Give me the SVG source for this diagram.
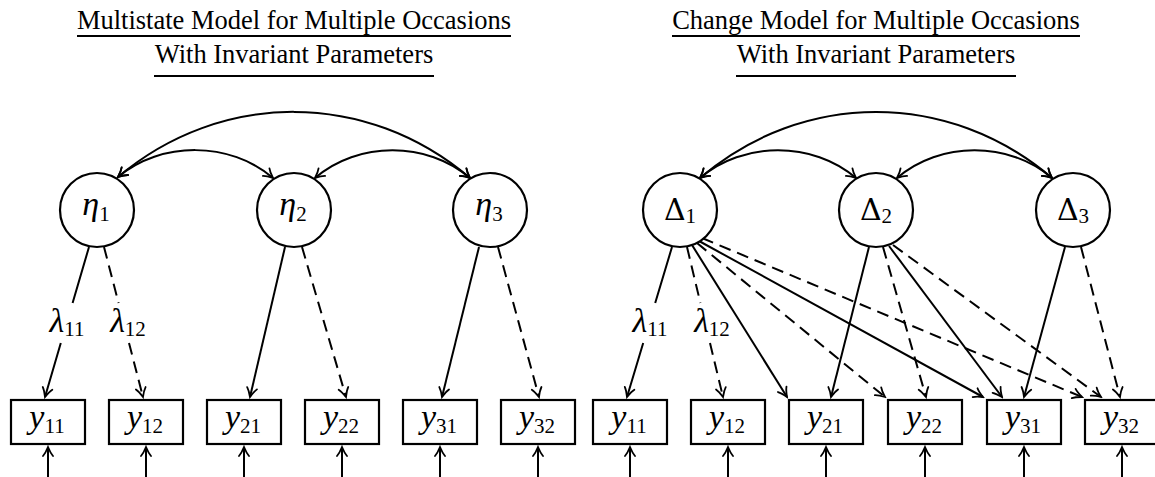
<svg xmlns="http://www.w3.org/2000/svg" width="1155" height="477" viewBox="0 0 1155 477">
  <style>
    .title { font-family: "Liberation Serif", "Times New Roman", serif; font-size: 26.5px; fill: #000; }
    .ul { stroke: #000; stroke-width: 2; }
    .node { fill: #fff; stroke: #000; stroke-width: 2.2; }
    .math { font-family: "Liberation Serif", "Times New Roman", serif; font-style: italic; font-size: 34px; fill: #000; }
    .greek { font-family: "DejaVu Serif", "Liberation Serif", serif; font-size: 30px; fill: #000; }
    .sub { font-family: "Liberation Serif", "Times New Roman", serif; font-style: normal; font-size: 21px; }
    .conn { fill: none; stroke: #000; stroke-width: 2; marker-end: url(#arrow); }
    .cov { fill: none; stroke: #000; stroke-width: 2; marker-start: url(#arrow); marker-end: url(#arrow); }
    .dash { stroke-dasharray: 12 7; }
  </style>
  <defs>
    <marker id="arrow" viewBox="-11 -7 13 14" refX="0" refY="0" markerWidth="13" markerHeight="14" markerUnits="userSpaceOnUse" orient="auto-start-reverse">
      <path d="M-9,-5 C-6.5,-2.8 -2.2,-0.9 0,0 C-2.2,0.9 -6.5,2.8 -9,5" fill="none" stroke="#000" stroke-width="1.8" stroke-linecap="round" stroke-dasharray="none"/>
    </marker>
  </defs>

  <!-- panel titles -->
  <g id="titles">
    <text class="title" x="294" y="28.5" text-anchor="middle">Multistate Model for Multiple Occasions</text>
    <line class="ul" x1="77" y1="36" x2="511" y2="36"/>
    <text class="title" x="294" y="63" text-anchor="middle">With Invariant Parameters</text>
    <line class="ul" x1="154" y1="76" x2="434" y2="76"/>
    <text class="title" x="876" y="28.5" text-anchor="middle">Change Model for Multiple Occasions</text>
    <line class="ul" x1="672" y1="36" x2="1080" y2="36"/>
    <text class="title" x="876" y="63" text-anchor="middle">With Invariant Parameters</text>
    <line class="ul" x1="736" y1="76" x2="1016" y2="76"/>
  </g>

  <g id="connectors">
    <!-- covariances between latent factors (left) -->
    <path class="cov" d="M118,177 C221,90 367,90 470,178"/>
    <path class="cov" d="M118,177 C161,141 230,141 273,178"/>
    <path class="cov" d="M315,178 C358,141 427,141 470,178"/>
    <!-- covariances between latent factors (right) -->
    <path class="cov" d="M700,178 C803,90 949,90 1052,178"/>
    <path class="cov" d="M700,178 C743,141 813,141 856,178"/>
    <path class="cov" d="M897,178 C940,141 1009,141 1052,178"/>

    <!-- loadings, multistate model -->
    <path class="conn" d="M89,247 L72.6,303 M60.8,343 L45,397"/>
    <path class="conn dash" d="M104,247 L118.6,303 M129,343 L143,397"/>
    <path class="conn" d="M285,247 L250,397"/>
    <path class="conn dash" d="M302,247 L346,397"/>
    <path class="conn" d="M479,247 L442,397"/>
    <path class="conn dash" d="M498,247 L539,397"/>

    <!-- loadings, change model -->
    <path class="conn" d="M672,247 L655.2,303 M643.2,343 L627,397"/>
    <path class="conn dash" d="M687,247 L700.4,303 M710,343 L723,397"/>
    <path class="conn" d="M692,245 L787,397"/>
    <path class="conn dash" d="M697,243 L885,397"/>
    <path class="conn" d="M699,241 L983,397"/>
    <path class="conn dash" d="M702,238 L1082,397"/>
    <path class="conn" d="M869,247 L831,397"/>
    <path class="conn dash" d="M883,247 L926,397"/>
    <path class="conn" d="M889,246 L1002,397"/>
    <path class="conn dash" d="M893,245 L1101,397"/>
    <path class="conn" d="M1065,247 L1024,397"/>
    <path class="conn dash" d="M1081,247 L1120,397"/>

    <!-- residual arrows -->
    <path class="conn" d="M48,477 L48,447"/>
    <path class="conn" d="M146,477 L146,447"/>
    <path class="conn" d="M244,477 L244,447"/>
    <path class="conn" d="M342,477 L342,447"/>
    <path class="conn" d="M440,477 L440,447"/>
    <path class="conn" d="M538,477 L538,447"/>
    <path class="conn" d="M630,477 L630,447"/>
    <path class="conn" d="M728,477 L728,447"/>
    <path class="conn" d="M826,477 L826,447"/>
    <path class="conn" d="M925,477 L925,447"/>
    <path class="conn" d="M1024,477 L1024,447"/>
    <path class="conn" d="M1122,477 L1122,447"/>

    <!-- loading labels -->
    <text class="math" x="67" y="332" text-anchor="middle">λ<tspan class="sub" dy="4">11</tspan></text>
    <text class="math" x="128" y="332" text-anchor="middle">λ<tspan class="sub" dy="4">12</tspan></text>
    <text class="math" x="650" y="332" text-anchor="middle">λ<tspan class="sub" dy="4">11</tspan></text>
    <text class="math" x="712" y="332" text-anchor="middle">λ<tspan class="sub" dy="4">12</tspan></text>
  </g>

  <!-- latent factors, multistate model -->
  <g id="eta1"><circle class="node" cx="97" cy="210" r="37"/><text class="math" x="96" y="215" text-anchor="middle">η<tspan class="sub" dy="6">1</tspan></text></g>
  <g id="eta2"><circle class="node" cx="294" cy="210" r="37"/><text class="math" x="293" y="215" text-anchor="middle">η<tspan class="sub" dy="6">2</tspan></text></g>
  <g id="eta3"><circle class="node" cx="490" cy="210" r="37"/><text class="math" x="489" y="215" text-anchor="middle">η<tspan class="sub" dy="6">3</tspan></text></g>

  <!-- latent factors, change model -->
  <g id="delta1"><circle class="node" cx="680" cy="210" r="37"/><text class="greek" x="680" y="220" text-anchor="middle">Δ<tspan class="sub" dy="3">1</tspan></text></g>
  <g id="delta2"><circle class="node" cx="876" cy="210" r="37"/><text class="greek" x="876" y="220" text-anchor="middle">Δ<tspan class="sub" dy="3">2</tspan></text></g>
  <g id="delta3"><circle class="node" cx="1073" cy="210" r="37"/><text class="greek" x="1073" y="220" text-anchor="middle">Δ<tspan class="sub" dy="3">3</tspan></text></g>

  <!-- observed indicators, multistate model -->
  <g id="L-y11"><rect class="node" x="11" y="400" width="74" height="44"/><text class="math" x="47" y="428" text-anchor="middle">y<tspan class="sub" dy="5">11</tspan></text></g>
  <g id="L-y12"><rect class="node" x="109" y="400" width="74" height="44"/><text class="math" x="145" y="428" text-anchor="middle">y<tspan class="sub" dy="5">12</tspan></text></g>
  <g id="L-y21"><rect class="node" x="207" y="400" width="74" height="44"/><text class="math" x="243" y="428" text-anchor="middle">y<tspan class="sub" dy="5">21</tspan></text></g>
  <g id="L-y22"><rect class="node" x="305" y="400" width="74" height="44"/><text class="math" x="341" y="428" text-anchor="middle">y<tspan class="sub" dy="5">22</tspan></text></g>
  <g id="L-y31"><rect class="node" x="403" y="400" width="74" height="44"/><text class="math" x="439" y="428" text-anchor="middle">y<tspan class="sub" dy="5">31</tspan></text></g>
  <g id="L-y32"><rect class="node" x="501" y="400" width="74" height="44"/><text class="math" x="537" y="428" text-anchor="middle">y<tspan class="sub" dy="5">32</tspan></text></g>

  <!-- observed indicators, change model -->
  <g id="R-y11"><rect class="node" x="593" y="400" width="74" height="44"/><text class="math" x="629" y="428" text-anchor="middle">y<tspan class="sub" dy="5">11</tspan></text></g>
  <g id="R-y12"><rect class="node" x="691" y="400" width="74" height="44"/><text class="math" x="727" y="428" text-anchor="middle">y<tspan class="sub" dy="5">12</tspan></text></g>
  <g id="R-y21"><rect class="node" x="789" y="400" width="74" height="44"/><text class="math" x="825" y="428" text-anchor="middle">y<tspan class="sub" dy="5">21</tspan></text></g>
  <g id="R-y22"><rect class="node" x="888" y="400" width="74" height="44"/><text class="math" x="924" y="428" text-anchor="middle">y<tspan class="sub" dy="5">22</tspan></text></g>
  <g id="R-y31"><rect class="node" x="987" y="400" width="74" height="44"/><text class="math" x="1023" y="428" text-anchor="middle">y<tspan class="sub" dy="5">31</tspan></text></g>
  <g id="R-y32"><rect class="node" x="1085" y="400" width="74" height="44"/><text class="math" x="1121" y="428" text-anchor="middle">y<tspan class="sub" dy="5">32</tspan></text></g>
</svg>
